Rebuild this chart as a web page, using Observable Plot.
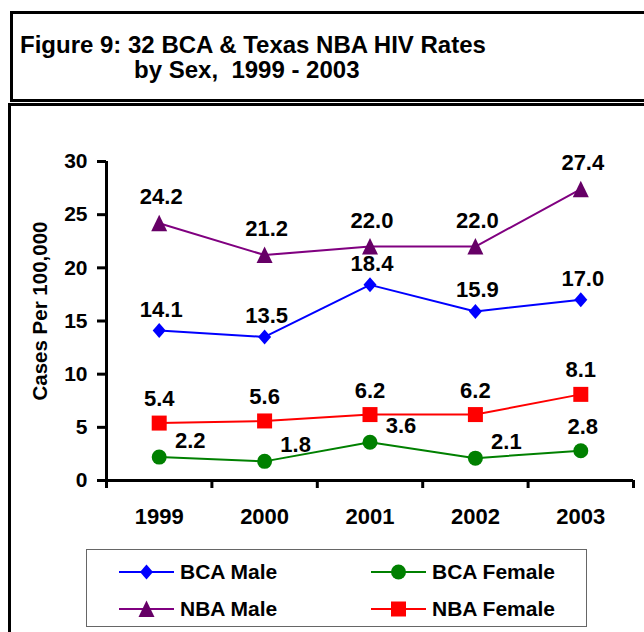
<!DOCTYPE html>
<html>
<head>
<meta charset="utf-8">
<script src="https://cdn.jsdelivr.net/npm/d3@7"></script>
<script src="https://cdn.jsdelivr.net/npm/@observablehq/plot@0.6"></script>
<style>
  html, body { margin: 0; padding: 0; background: #fff; }
  body { width: 644px; height: 632px; position: relative; overflow: hidden;
         font-family: "Liberation Sans", Arial, sans-serif; color: #000; }
  .box { position: absolute; box-sizing: border-box; border: 3px solid #000; }
  .title { position: absolute; font-weight: bold; font-size: 24px; line-height: 25px; white-space: pre; }
  #chart { position: absolute; left: 0; top: 140px; }
  #legend { position: absolute; left: 86px; top: 549px; width: 501px; height: 78px;
            box-sizing: border-box; border: 1.5px solid #666; background: #fff; }
  .item { position: absolute; height: 30px; display: flex; align-items: center;
          font-weight: bold; font-size: 21px; white-space: nowrap; }
  .item svg { margin-right: 6px; }
</style>
</head>
<body>
<div class="box" style="left:10px; top:11px; width:700px; height:91px;"></div>
<div class="box" style="left:8px; top:103px; width:700px; height:600px;"></div>
<div class="title" style="left:20px; top:32px;">Figure 9: 32 BCA &amp; Texas NBA HIV Rates</div>
<div class="title" style="left:134px; top:57px;">by Sex,  1999 - 2003</div>
<div id="chart"></div>
<div id="legend"></div>
<script>
// ---- data ----
const years = [1999, 2000, 2001, 2002, 2003];
const seriesNames = ["BCA Male", "BCA Female", "NBA Male", "NBA Female"];
const bcaMale = [14.1, 13.5, 18.4, 15.9, 17.0];
const bcaFemale = [2.2, 1.8, 3.6, 2.1, 2.8];
const nbaMale = [24.2, 21.2, 22.0, 22.0, 27.4];
const nbaFemale = [5.4, 5.6, 6.2, 6.2, 8.1];
const yTicks = [0, 5, 10, 15, 20, 25, 30];
// where each BCA Female value label sits relative to its marker
const bcaFemaleLabelSide = ["right", "right", "right", "right", "above"];

// ---- styles ----
const lineColors = {"BCA Male": "#0000ff", "BCA Female": "#008000", "NBA Male": "#800080", "NBA Female": "#ff0000"};
const markerColors = {"BCA Male": "#0000ff", "BCA Female": "#008000", "NBA Male": "#660066", "NBA Female": "#ff0000"};

const symDiamond = {draw(c) { c.moveTo(0, -7.5); c.lineTo(6.5, 0); c.lineTo(0, 7.5); c.lineTo(-6.5, 0); c.closePath(); }};
const symTriangle = {draw(c) { c.moveTo(0, -8.5); c.lineTo(8, 8); c.lineTo(-8, 8); c.closePath(); }};
const symSquare = {draw(c) { c.rect(-7.5, -7.5, 15, 15); }};
const symCircle = {draw(c) { c.moveTo(7.5, 0); c.arc(0, 0, 7.5, 0, 2 * Math.PI); }};
const symbols = {"BCA Male": symDiamond, "BCA Female": symCircle, "NBA Male": symTriangle, "NBA Female": symSquare};

const valuesBySeries = {"BCA Male": bcaMale, "BCA Female": bcaFemale, "NBA Male": nbaMale, "NBA Female": nbaFemale};
const rows = seriesNames.flatMap(s => years.map((yr, i) => ({series: s, year: yr, value: valuesBySeries[s][i], i})));
const bounds = d3.range(years.length + 1).map(k => years[0] - 0.5 + k);
const fmt = d3.format(".1f");
const font = {fontSize: 22, fontWeight: "bold", fill: "black"};

const labelOffsets = {"NBA Male": [2, -26], "BCA Male": [2, -21], "NBA Female": [0, -24]};

const marks = [];
// lines
for (const s of seriesNames) {
  marks.push(Plot.line(rows.filter(d => d.series === s), {x: "year", y: "value", stroke: lineColors[s], strokeWidth: 2}));
}
// markers
for (const s of seriesNames) {
  marks.push(Plot.dot(rows.filter(d => d.series === s), {x: "year", y: "value", symbol: () => symbols[s], fill: markerColors[s], stroke: "none", r: 7}));
}
// value labels
for (const s of ["NBA Male", "BCA Male", "NBA Female"]) {
  marks.push(Plot.text(rows.filter(d => d.series === s), {x: "year", y: "value", text: d => fmt(d.value), dx: labelOffsets[s][0], dy: labelOffsets[s][1], ...font}));
}
marks.push(Plot.text(rows.filter(d => d.series === "BCA Female" && bcaFemaleLabelSide[d.i] === "right"), {x: "year", y: "value", text: d => fmt(d.value), dx: 31, dy: -16, ...font}));
marks.push(Plot.text(rows.filter(d => d.series === "BCA Female" && bcaFemaleLabelSide[d.i] === "above"), {x: "year", y: "value", text: d => fmt(d.value), dx: 2, dy: -24, ...font}));

// axes
marks.push(Plot.ruleX([bounds[0]], {stroke: "black", strokeWidth: 3}));
marks.push(Plot.ruleY([0], {stroke: "black", strokeWidth: 3}));
marks.push(Plot.axisY({ticks: yTicks, tickSize: 9, tickPadding: 10, strokeWidth: 3, fontSize: 21, fontWeight: "bold", label: null, tickFormat: d => String(d)}));
marks.push(Plot.axisX({ticks: bounds, tickSize: 8, strokeWidth: 3, tickFormat: () => "", label: null}));
marks.push(Plot.axisX({ticks: years, tickSize: 0, tickPadding: 28, fontSize: 22, fontWeight: "bold", label: null, tickFormat: d => String(d)}));
marks.push(Plot.text(["Cases Per 100,000"], {frameAnchor: "left", textAnchor: "middle", text: d => d, rotate: -90, dx: -66, dy: -10, fontSize: 20.5, fontWeight: "bold", fill: "black"}));

const chart = Plot.plot({
  width: 644,
  height: 400,
  marginLeft: 106,
  marginRight: 11,
  marginTop: 21,
  marginBottom: 60,
  x: {type: "linear", domain: [bounds[0], bounds[bounds.length - 1]]},
  y: {domain: [0, 30]},
  style: {background: "none", fontFamily: "'Liberation Sans', Arial, sans-serif", color: "black", overflow: "visible"},
  marks
});
document.getElementById("chart").appendChild(chart);

// legend
const legendLayout = [
  {s: "BCA Male", left: 32, top: 7},
  {s: "BCA Female", left: 284, top: 7},
  {s: "NBA Male", left: 32, top: 44},
  {s: "NBA Female", left: 284, top: 44}
];
const legend = document.getElementById("legend");
for (const it of legendLayout) {
  const div = document.createElement("div");
  div.className = "item";
  div.style.left = it.left + "px";
  div.style.top = it.top + "px";
  const svg = d3.create("svg").attr("width", 55).attr("height", 20);
  svg.append("line").attr("x1", 0).attr("x2", 55).attr("y1", 10).attr("y2", 10)
    .attr("stroke", lineColors[it.s]).attr("stroke-width", 2);
  svg.append("path").attr("transform", "translate(27.5,10)")
    .attr("d", d3.symbol().type(symbols[it.s])())
    .attr("fill", markerColors[it.s]);
  div.appendChild(svg.node());
  div.appendChild(document.createTextNode(it.s));
  legend.appendChild(div);
}
</script>
</body>
</html>
